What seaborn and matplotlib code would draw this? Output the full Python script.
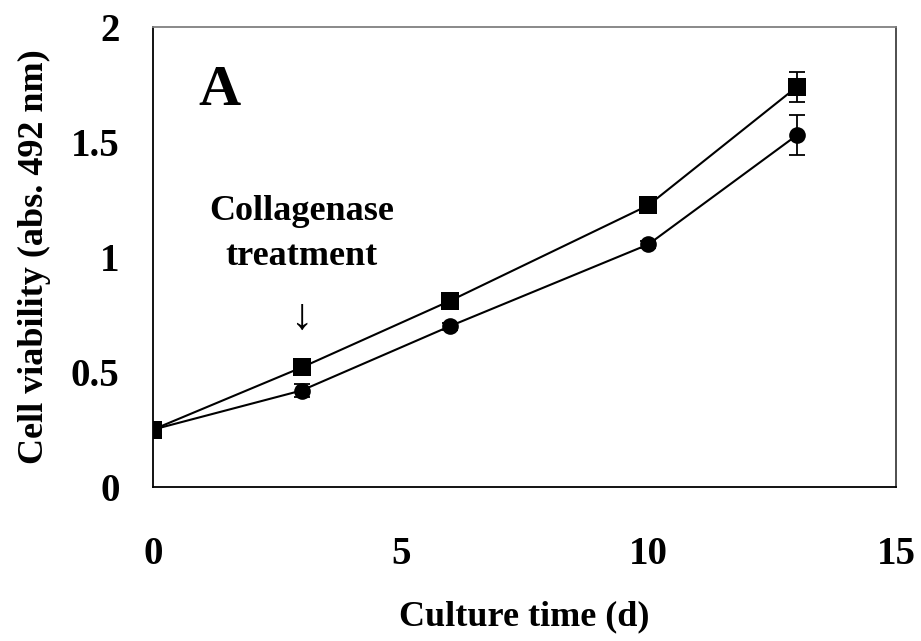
import matplotlib
matplotlib.use("Agg")
import matplotlib.pyplot as plt
import seaborn as sns
import pandas as pd

days = [0, 3, 6, 10, 13]
control = [0.25, 0.52, 0.81, 1.225, 1.74]
control_err = [0.01, 0.02, 0.02, 0.035, 0.065]
collagenase = [0.25, 0.42, 0.70, 1.055, 1.53]
collagenase_err = [0.01, 0.03, 0.015, 0.015, 0.087]

df = pd.concat([
    pd.DataFrame({'day': days, 'viability': control, 'err': control_err, 'group': 'control'}),
    pd.DataFrame({'day': days, 'viability': collagenase, 'err': collagenase_err, 'group': 'collagenase'}),
])

sns.set_style('white')
plt.rcParams['font.family'] = ['Liberation Serif', 'DejaVu Serif']
plt.rcParams['font.weight'] = 'bold'
plt.rcParams['text.color'] = 'black'
plt.rcParams['axes.labelcolor'] = 'black'
plt.rcParams['xtick.color'] = 'black'
plt.rcParams['ytick.color'] = 'black'

fig = plt.figure(figsize=(9.21, 6.41), dpi=100)
ax = fig.add_axes([0.166, 0.240, 0.807, 0.718])

markers = {'control': 's', 'collagenase': 'o'}
sizes = {'control': 12.5, 'collagenase': 12}
for name, sub in df.groupby('group', sort=False):
    ax.errorbar(sub['day'], sub['viability'], yerr=sub['err'], fmt='none',
                ecolor='black', elinewidth=1.3, capsize=6, capthick=1.3, zorder=2)
    sns.lineplot(data=sub, x='day', y='viability', ax=ax, color='black', lw=1.5,
                 marker=markers[name], markersize=sizes[name], markeredgewidth=0,
                 legend=False, zorder=3)

ax.set_xlim(0, 15)
ax.set_ylim(0, 2)
ax.set_xticks([0, 5, 10, 15])
ax.set_yticks([0, 0.5, 1, 1.5, 2])
ax.set_xticklabels(['0', '5', '10', '15'])
ax.set_yticklabels(['0', '0.5', '1', '1.5', '2'])
ax.tick_params(axis='y', direction='in', length=9, width=1, color='#808080', pad=24, labelsize=28)
ax.tick_params(axis='x', direction='in', length=0, pad=35, labelsize=28)
for lab in ax.get_xticklabels() + ax.get_yticklabels():
    lab.set_fontweight('bold')
for s in ax.spines.values():
    s.set_color('black')
    s.set_linewidth(1.3)
ax.spines['top'].set_color('#808080')
ax.spines['right'].set_color('#404040')

ax.set_xlabel('Culture time (d)', fontsize=26, fontweight='bold', labelpad=20)
ax.set_ylabel('Cell viability (abs. 492 nm)', fontsize=26, fontweight='bold', labelpad=14)

ax.text(1.35, 1.72, 'A', fontsize=42, fontweight='bold', ha='center', va='center')
ax.text(3.0, 1.10, 'Collagenase\ntreatment', fontsize=26, fontweight='bold',
        ha='center', va='center', linespacing=1.5)
ax.text(3.0, 0.735, '\u2193', fontsize=32, ha='center', va='center',
        fontweight='normal')

fig.savefig('out.png', dpi=100)
